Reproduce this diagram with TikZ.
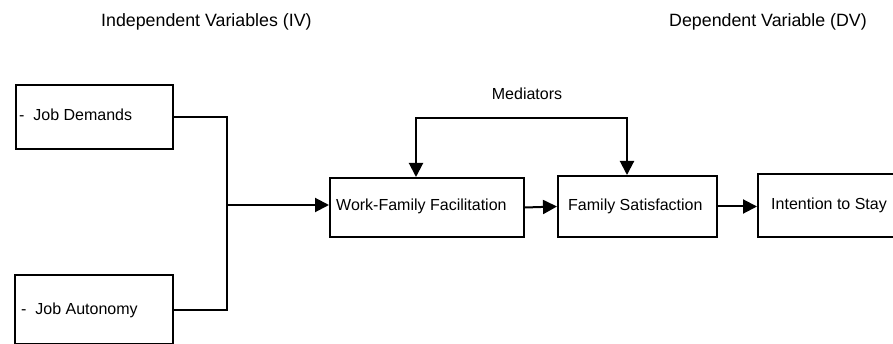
\documentclass[tikz,border=0pt]{standalone}
\usepackage{fontspec}
\setmainfont{Liberation Sans}
\usetikzlibrary{arrows.meta,calc}
\begin{document}
\begin{tikzpicture}[x=1pt,y=-1pt,
  box/.style={draw,line width=2pt,anchor=north west,inner sep=0pt,align=left,font=\fontsize{16}{19}\selectfont},
  lbl/.style={inner sep=0pt,font=\fontsize{16}{19}\selectfont},
  ttl/.style={inner sep=0pt,anchor=west,font=\fontsize{17.8}{21}\selectfont},
  conn/.style={line width=2pt},
  arr/.style={line width=2pt,-{Triangle[length=14pt,width=14pt]}}]
\useasboundingbox (0,0) rectangle (893,344);
% boxes
\node[box,minimum width=157pt,minimum height=64pt] (jd) at (15,84) {};
\node[lbl,anchor=west] (jdt) at (19,115) {-\ \ Job Demands};
\node[box,minimum width=158pt,minimum height=69pt] (ja) at (14,274) {};
\node[lbl,anchor=west] (jat) at (21,310) {-\ \ Job Autonomy};
\node[box,minimum width=194pt,minimum height=59pt] (wff) at (329,177) {};
\node[lbl,anchor=west] (wfft) at (336,206) {Work-Family Facilitation};
\node[box,minimum width=159pt,minimum height=61pt] (fs) at (557,175) {};
\node[lbl,anchor=west] (fst) at (568,206) {Family Satisfaction};
\node[box,minimum width=150pt,minimum height=63pt] (its) at (757,173) {};
\node[lbl,anchor=west] (itst) at (771,205) {Intention to Stay};
% titles
\node[ttl] (iv) at (101,22) {Independent Variables (IV)};
\node[ttl] (dv) at (669,22) {Dependent Variable (DV)};
\node[lbl] (med) at (527,94) {Mediators};
% connectors
\coordinate (j) at (227,205);
\draw[conn] (jd.east) -| (j) |- (ja.east);
\draw[arr] (j) -- (j -| wff.west);
\draw[arr] (wff.east) -- (fs.west);
\draw[arr] (fs.east) -- (fs.east -| its.west);
\coordinate (m1) at (416,118);
\coordinate (m2) at (627,118);
\draw[line width=2pt,{Triangle[length=14pt,width=14pt]}-{Triangle[length=14pt,width=14pt]}] (m1 |- wff.north) -- (m1) -- (m2) -- (m2 |- fs.north);
\end{tikzpicture}
\end{document}
